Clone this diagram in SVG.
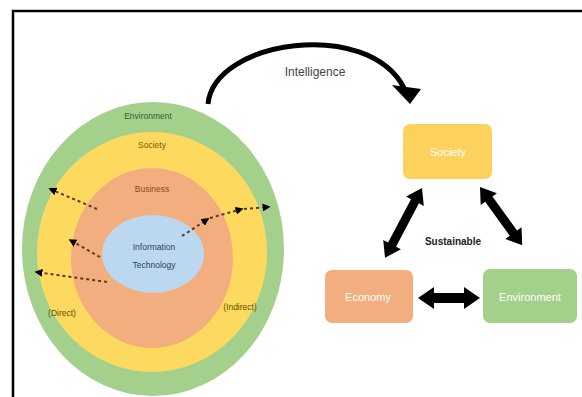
<svg xmlns="http://www.w3.org/2000/svg" width="582" height="397" viewBox="0 0 582 397">
<style>
  .lbl { font-family: "Liberation Sans", Arial, sans-serif; text-anchor: middle; }
  .ring { font-size: 8.5px; }
  .box-t { font-size: 11px; fill: #ffffff; }
  .dash { fill: none; stroke: #5a3b1c; stroke-width: 2; stroke-dasharray: 3 3; }
  .thick { fill: #000000; }
</style>
<defs>
  <marker id="sh" viewBox="0 0 10 10" refX="8" refY="5" markerWidth="4" markerHeight="4" orient="auto" markerUnits="strokeWidth">
    <path d="M0,0 L10,5 L0,10 Z" fill="#000"/>
  </marker>
</defs>
<rect x="0" y="0" width="582" height="397" fill="#ffffff"/>
<rect x="13" y="11" width="620" height="420" fill="none" stroke="#000" stroke-width="2.5"/>

<g id="ring-environment">
  <ellipse cx="153" cy="249" rx="131" ry="147" fill="#a3d18c"/>
  <text class="lbl ring" x="148" y="119" fill="#3d5a2e">Environment</text>
</g>
<g id="ring-society">
  <ellipse cx="152" cy="252" rx="115" ry="120" fill="#fed95f"/>
  <text class="lbl ring" x="152" y="148" fill="#7a6000">Society</text>
</g>
<g id="ring-business">
  <ellipse cx="152" cy="258" rx="81" ry="90" fill="#f3ae7f"/>
  <text class="lbl ring" x="152" y="192" fill="#8c4a22">Business</text>
</g>
<g id="ring-it">
  <ellipse cx="153" cy="254" rx="51" ry="39" fill="#bcd8f0"/>
  <text class="lbl ring" x="154" y="250" fill="#2b3f66">Information</text>
  <text class="lbl ring" x="154" y="268" fill="#2b3f66">Technology</text>
</g>
<g id="label-direct">
  <text class="lbl ring" x="62" y="316" fill="#5e5000">(Direct)</text>
</g>
<g id="label-indirect">
  <text class="lbl ring" x="240" y="310" fill="#5e5000">(Indirect)</text>
</g>

<g id="box-society">
  <rect x="403" y="124" width="89" height="55" rx="7" fill="#fdd25c"/>
  <text class="lbl box-t" x="448" y="156">Society</text>
</g>
<g id="box-economy">
  <rect x="325" y="270" width="88" height="53" rx="7" fill="#f3ae7f"/>
  <text class="lbl box-t" x="368" y="301">Economy</text>
</g>
<g id="box-environment">
  <rect x="483" y="269" width="94" height="54" rx="7" fill="#a3d18c"/>
  <text class="lbl box-t" x="530" y="301">Environment</text>
</g>

<g id="connectors">
  <path class="dash" d="M97,209 L50,189" marker-end="url(#sh)"/>
  <path class="dash" d="M100,257 L70,240" marker-end="url(#sh)"/>
  <path class="dash" d="M107,282 L36,272" marker-end="url(#sh)"/>
  <path class="dash" d="M182,236 L208,219" marker-end="url(#sh)"/>
  <path class="dash" d="M210,218 L242,209" marker-end="url(#sh)"/>
  <path class="dash" d="M244,209 L269,207" marker-end="url(#sh)"/>

  <path d="M208,104 C214,40 368,18 404,88" fill="none" stroke="#000" stroke-width="5"/>
  <polygon points="392,85 421,89 410,104" fill="#000"/>

  <path class="thick" transform="translate(422,188) rotate(117.9)" d="M0,0 L15,-10 L15,-4.5 L64,-4.5 L64,-10 L79,0 L64,10 L64,4.5 L15,4.5 L15,10 Z"/>
  <path class="thick" transform="translate(480,187) rotate(54.1)" d="M0,0 L15,-10 L15,-4.5 L57,-4.5 L57,-10 L72,0 L57,10 L57,4.5 L15,4.5 L15,10 Z"/>
  <path class="thick" transform="translate(418,298)" d="M0,0 L16,-11 L16,-5 L46,-5 L46,-11 L62,0 L46,11 L46,5 L16,5 L16,11 Z"/>

  <text class="lbl" x="315" y="76" font-size="12" fill="#444">Intelligence</text>
  <text class="lbl" x="453" y="245" font-size="10" font-weight="bold" fill="#222">Sustainable</text>
</g>
</svg>
